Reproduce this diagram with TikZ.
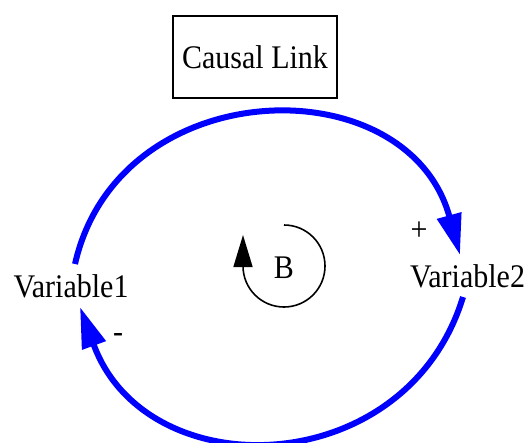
\documentclass[tikz,border=0pt]{standalone}
\usepackage{fontspec}
\newfontfamily\timesfont{Liberation Serif}
\usepackage{graphicx}
\usetikzlibrary{arrows.meta,calc}
\newcommand{\stretchtxt}[1]{\scalebox{1}[1.1]{#1}}
\definecolor{linkblue}{RGB}{0,0,255}
\tikzset{
  lbl/.style={font=\timesfont\fontsize{30}{36}\selectfont, inner sep=0pt},
  link/.style={draw=linkblue, line width=6pt, -{Triangle[length=41pt,width=24pt]}},
  titlebox/.style={draw, line width=1.6pt, minimum width=164pt, minimum height=82pt, inner sep=0pt, font=\timesfont\fontsize{30}{36}\selectfont},
  loopline/.style={line width=1.6pt, -{Triangle[length=32pt,width=19pt]}}
}
\begin{document}
\begin{tikzpicture}[x=1pt,y=-1pt]
\useasboundingbox (0,0) rectangle (530,442);
\node[titlebox] (title) at (255,57) {\stretchtxt{Causal Link}};
\node[lbl] (v1) at (71,286) {\stretchtxt{Variable1}};
\node[lbl] (v2) at (467.5,276) {\stretchtxt{Variable2}};
\node[lbl] (B) at (284,268) {\stretchtxt{B}};
\node[lbl] (plus) at (419,231) {\stretchtxt{+}};
\node[lbl] (minus) at (118,338) {\stretchtxt{-}};
\draw[link] ($(v1.center)+(4,-22)$) to[out=77.2,in=105.4,looseness=1.31] ($(v2.center)+(-7.5,-21)$);
\draw[link] ($(v2.center)+(-4.5,21)$) to[out=-107,in=-70,looseness=1.291] ($(v1.center)+(9,21)$);
\draw[loopline] (284,225) arc[start angle=90,end angle=-180,radius=41pt] -- (243,235);
\end{tikzpicture}
\end{document}
